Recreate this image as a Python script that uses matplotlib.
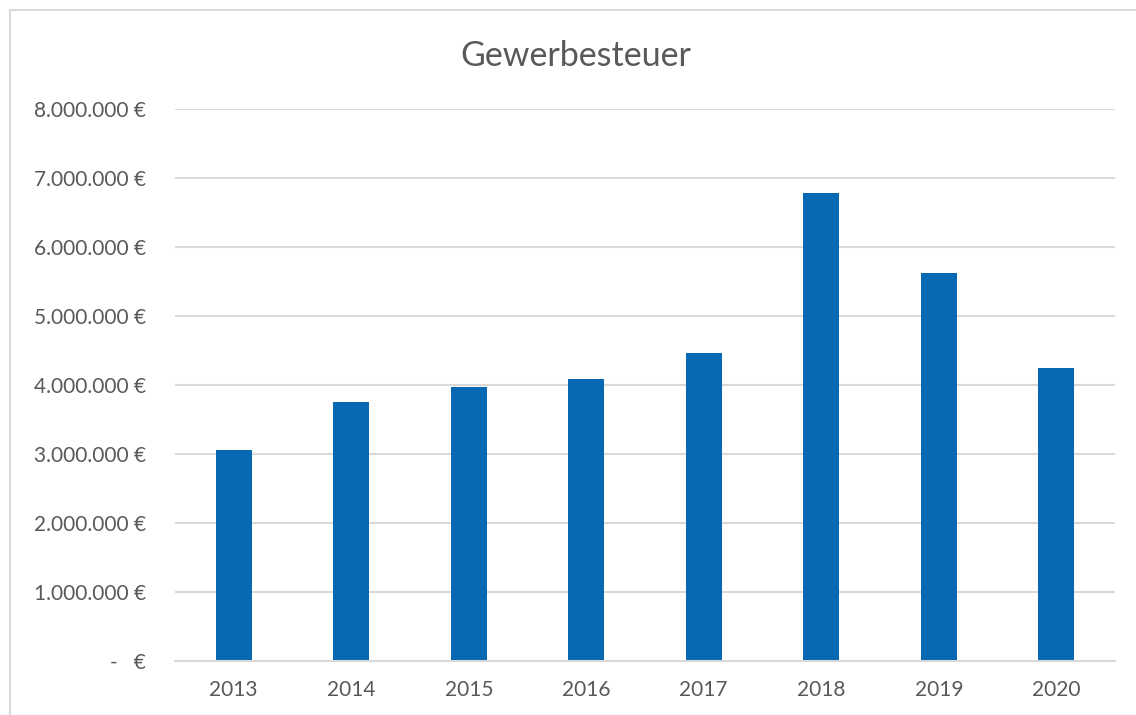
import matplotlib.pyplot as plt
from matplotlib.lines import Line2D
from matplotlib.ticker import FuncFormatter

years = ["2013", "2014", "2015", "2016", "2017", "2018", "2019", "2020"]
gewerbesteuer = [3062000, 3749000, 3967000, 4083000, 4459000, 6778000, 5628000, 4251000]
y_ticks = [0, 1000000, 2000000, 3000000, 4000000, 5000000, 6000000, 7000000, 8000000]

text_color = "#595959"
grid_color = "#d9d9d9"
bar_color = "#0669b2"

plt.rcParams["font.family"] = ["Lato", "DejaVu Sans"]


def euro(value, pos):
    if value == 0:
        return "-   €"
    return f"{int(value):,} €".replace(",", ".")


fig = plt.figure(figsize=(11.36, 7.15), dpi=100)
ax = fig.add_axes([175 / 1136, 1 - 661 / 715, 940 / 1136, 552 / 715])

x = range(len(years))
ax.bar(x, gewerbesteuer, width=0.31, color=bar_color, zorder=3)

ax.set_xlim(-0.5, len(years) - 0.5)
ax.set_ylim(0, 8000000)
ax.set_yticks(y_ticks)
ax.yaxis.set_major_formatter(FuncFormatter(euro))
ax.set_xticks(list(x))
ax.set_xticklabels(years)

ax.grid(axis="y", color=grid_color, linewidth=1.5, zorder=0)
for side in ["top", "right", "left"]:
    ax.spines[side].set_visible(False)
ax.spines["bottom"].set_color(grid_color)
ax.spines["bottom"].set_linewidth(1.5)
ax.spines["bottom"].set_zorder(4)

ax.tick_params(axis="y", length=0, pad=21, labelsize=15, labelcolor=text_color)
ax.tick_params(axis="x", length=0, pad=14, labelsize=15, labelcolor=text_color)

fig.text(576 / 1136, 1 - 56 / 715, "Gewerbesteuer", ha="center", va="center",
         fontsize=24.5, color=text_color)

# chart frame (only top and left edges visible in the crop)
fig.add_artist(Line2D([10 / 1136, 10 / 1136], [0, 1 - 10 / 715], transform=fig.transFigure,
                      color=grid_color, linewidth=1.5))
fig.add_artist(Line2D([10 / 1136, 1], [1 - 10 / 715, 1 - 10 / 715], transform=fig.transFigure,
                      color=grid_color, linewidth=1.5))

fig.savefig("out.png", dpi=100)
